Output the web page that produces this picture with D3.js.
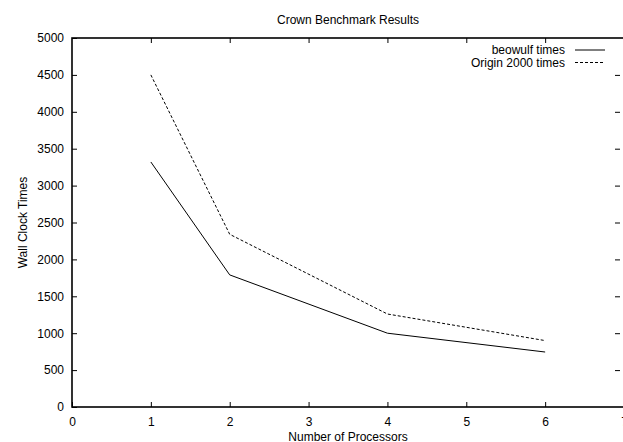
<!DOCTYPE html>
<html>
<head>
<meta charset="utf-8">
<script src="https://cdn.jsdelivr.net/npm/d3@7"></script>
<style>
  body { margin: 0; background: #fff; }
  text { font-family: "Liberation Sans", Arial, sans-serif; font-size: 12px; fill: #000; }
</style>
</head>
<body>
<div id="chart"></div>
<script>
// processors vs wall clock times
const processors = [1, 2, 4, 6];
const beowulfTimes = [3320, 1790, 1000, 745];
const originTimes = [4500, 2340, 1260, 900];
const xTicks = [0, 1, 2, 3, 4, 5, 6, 7];
const yTicks = [0, 500, 1000, 1500, 2000, 2500, 3000, 3500, 4000, 4500, 5000];

const width = 623, height = 442;
const margin = { left: 72, right: -1, top: 38, bottom: 35 };

const svg = d3.select("#chart").append("svg")
  .attr("width", width)
  .attr("height", height);

const x = d3.scaleLinear().domain([0, 7]).range([margin.left, width - margin.right]);
const y = d3.scaleLinear().domain([0, 5000]).range([height - margin.bottom, margin.top]);

// --- tick marks (inward, on all four sides) ---
const tickLen = 5;
svg.append("g")
  .attr("transform", `translate(0,${y(0)})`)
  .call(d3.axisBottom(x).tickValues(xTicks).tickSize(-tickLen).tickPadding(10).tickFormat(d3.format("d")))
  .call(g => g.select(".domain").remove());

svg.append("g")
  .attr("transform", `translate(${x(0)},0)`)
  .call(d3.axisLeft(y).tickValues(yTicks).tickSize(-tickLen).tickPadding(8).tickFormat(d3.format("d")))
  .call(g => g.select(".domain").remove());

svg.append("g")
  .attr("transform", `translate(0,${y(5000)})`)
  .call(d3.axisTop(x).tickValues(xTicks.slice(1, -1)).tickSize(-tickLen).tickFormat(""))
  .call(g => g.select(".domain").remove());

svg.append("g")
  .attr("transform", `translate(${x(7) - 4},0)`)
  .call(d3.axisRight(y).tickValues(yTicks.slice(1, -1)).tickSize(-tickLen).tickFormat(""))
  .call(g => g.select(".domain").remove());

svg.selectAll(".tick line").attr("stroke", "#000").attr("stroke-width", 1);
svg.selectAll(".tick text").style("font-size", "12px").style("font-family", "Liberation Sans, Arial, sans-serif");

// --- frame ---
svg.append("rect")
  .attr("x", x(0))
  .attr("y", y(5000))
  .attr("width", x(7) - x(0))
  .attr("height", y(0) - y(5000))
  .attr("fill", "none")
  .attr("stroke", "#000")
  .attr("stroke-width", 1.6);

// --- series ---
const line = d3.line()
  .x((d, i) => x(processors[i]))
  .y(d => y(d));

svg.append("path")
  .datum(beowulfTimes)
  .attr("d", line)
  .attr("fill", "none")
  .attr("stroke", "#000")
  .attr("stroke-width", 1);

svg.append("path")
  .datum(originTimes)
  .attr("d", line)
  .attr("fill", "none")
  .attr("stroke", "#000")
  .attr("stroke-width", 1)
  .attr("stroke-dasharray", "3,2");

// --- legend ---
const legend = [
  { label: "beowulf times", dash: null },
  { label: "Origin 2000 times", dash: "3,2" }
];
legend.forEach((d, i) => {
  const ly = 50 + i * 12.5;
  svg.append("text")
    .attr("x", 565)
    .attr("y", ly)
    .attr("dy", "0.35em")
    .attr("text-anchor", "end")
    .text(d.label);
  svg.append("line")
    .attr("x1", 575).attr("x2", 605)
    .attr("y1", ly).attr("y2", ly)
    .attr("stroke", "#000")
    .attr("stroke-width", 1)
    .attr("stroke-dasharray", d.dash);
});

// --- titles ---
svg.append("text")
  .attr("x", (x(0) + x(7)) / 2)
  .attr("y", 24)
  .attr("text-anchor", "middle")
  .text("Crown Benchmark Results");

svg.append("text")
  .attr("x", (x(0) + x(7)) / 2)
  .attr("y", 441)
  .attr("text-anchor", "middle")
  .text("Number of Processors");

svg.append("text")
  .attr("transform", `translate(27,${(y(0) + y(5000)) / 2}) rotate(-90)`)
  .attr("text-anchor", "middle")
  .text("Wall Clock Times");
</script>
</body>
</html>
